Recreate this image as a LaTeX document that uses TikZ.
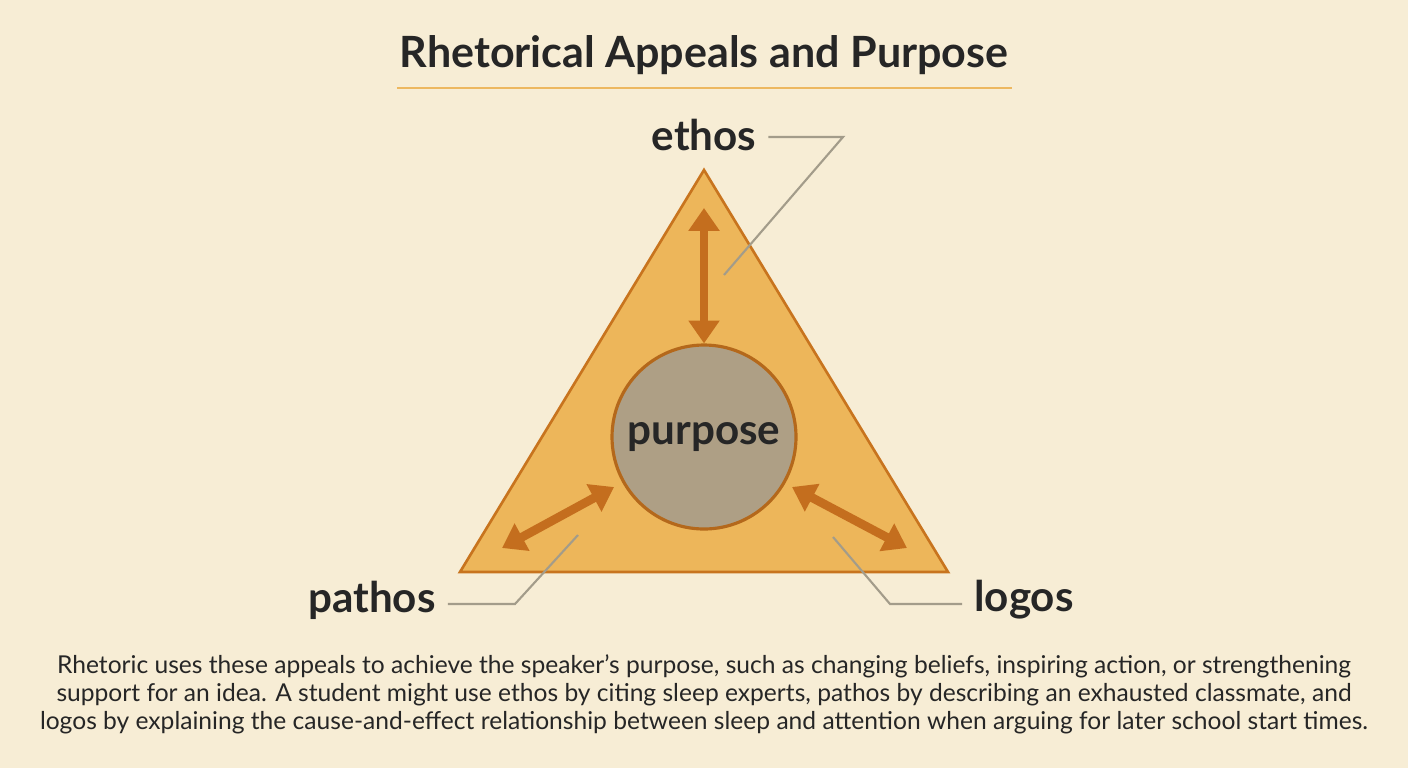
\documentclass[tikz,border=0pt]{standalone}
\usepackage{fontspec}
\setmainfont{Lato}
\usetikzlibrary{arrows.meta}
\definecolor{paper}{HTML}{F7EDD5}
\definecolor{tri}{HTML}{EDB65A}
\definecolor{triedge}{HTML}{C8741E}
\definecolor{disc}{HTML}{AE9F85}
\definecolor{arrowc}{HTML}{C46E1E}
\definecolor{leader}{HTML}{A39C8A}
\definecolor{rule}{HTML}{EDB860}
\tikzset{
  appeal/.style={font=\fontsize{24}{28}\selectfont\bfseries, text=black!85},
  link/.style={draw=arrowc, line width=5pt, {Triangle[width=17pt,length=13pt]}-{Triangle[width=17pt,length=13pt]}},
  pointer/.style={draw=leader, line width=1.2pt}
}
\begin{document}
\begin{tikzpicture}[x=0.02cm,y=-0.02cm]
	\fill[paper] (0,0) rectangle (1408,768);
	% title
	\node[font=\fontsize{24.5}{28}\selectfont\bfseries, text=black!85] (title) at (704,55) {Rhetorical Appeals and Purpose};
	\draw[rule, line width=1.5pt] (397,88) -- (1012,88);
	% triangle and centre
	\draw[fill=tri, draw=triedge, line width=1.5pt] (704,170) -- (948,572) -- (460,572) -- cycle;
	\node[circle, minimum size=184*0.02cm, fill=disc, draw=triedge!90!black, line width=1.8pt,
	  font=\fontsize{24}{28}\selectfont\bfseries, text=black!85] (purpose) at (704,437) {purpose};
	% corner points
	\coordinate (top) at (704,208);
	\coordinate (left) at (502,548);
	\coordinate (right) at (907,548);
	\coordinate (lin) at (614,487);
	\coordinate (rin) at (792,487);
	\draw[link] (top) -- (purpose.north);
	\draw[link] (left) -- (lin);
	\draw[link] (right) -- (rin);
	% labels
	\node[appeal] (ethos) at (704,135) {ethos};
	\node[appeal] (pathos) at (372,600) {pathos};
	\node[appeal] (logos) at (1024,600) {logos};
	\coordinate (e1) at (724,275);
	\coordinate (p1) at (578,535);
	\coordinate (l1) at (833,537);
	\draw[pointer] (ethos.east) ++(6,2) -- (843,137) -- (e1);
	\draw[pointer] (pathos.east) ++(6,4) -- (515,604) -- (p1);
	\draw[pointer] (logos.west) ++(-6,4) -- (890,604) -- (l1);
	% caption
	\node[align=center, font=\fontsize{14}{16}\selectfont, text=black!85] (note) at (704,694)
	  {Rhetoric uses these appeals to achieve the speaker's purpose, such as changing beliefs, inspiring action, or strengthening\\
	   support for an idea. A student might use ethos by citing sleep experts, pathos by describing an exhausted classmate, and\\
	   logos by explaining the cause-and-effect relationship between sleep and attention when arguing for later school start times.};
\end{tikzpicture}
\end{document}
